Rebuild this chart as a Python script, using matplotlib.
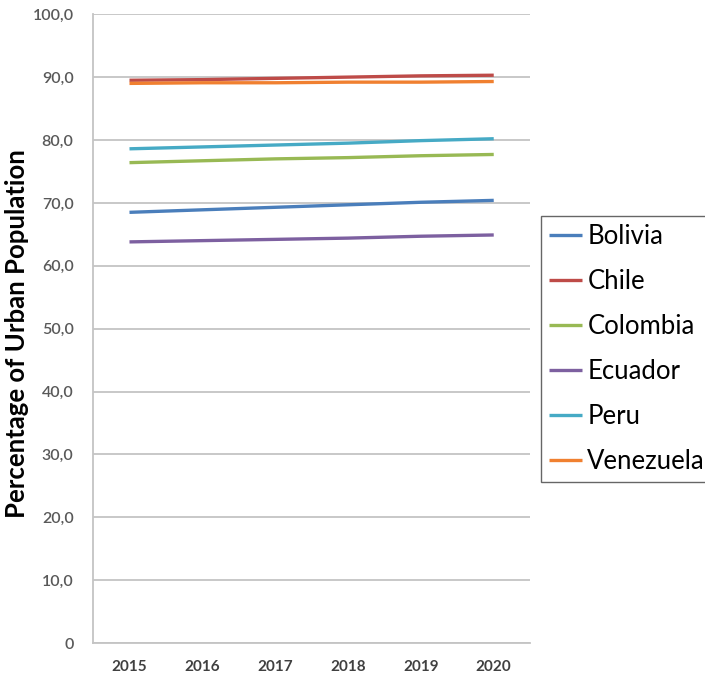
import matplotlib.pyplot as plt
from matplotlib.ticker import FuncFormatter

years = ["2015", "2016", "2017", "2018", "2019", "2020"]
bolivia = [68.5, 68.9, 69.3, 69.7, 70.1, 70.4]
chile = [89.5, 89.6, 89.8, 90.0, 90.2, 90.3]
colombia = [76.4, 76.7, 77.0, 77.2, 77.5, 77.7]
ecuador = [63.8, 64.0, 64.2, 64.4, 64.7, 64.9]
peru = [78.6, 78.9, 79.2, 79.5, 79.9, 80.2]
venezuela = [89.0, 89.1, 89.1, 89.2, 89.2, 89.3]

series = [
    ("Bolivia", bolivia, "#4A7EBB"),
    ("Chile", chile, "#BE4B48"),
    ("Colombia", colombia, "#98B954"),
    ("Ecuador", ecuador, "#7D60A0"),
    ("Peru", peru, "#46AAC5"),
    ("Venezuela", venezuela, "#F08030"),
]

plt.rcParams["font.family"] = ["Lato", "DejaVu Sans"]

fig = plt.figure(figsize=(7.05, 6.77), dpi=100)
ax = fig.add_axes([0.132, 0.050, 0.620, 0.929])

x = list(range(len(years)))
for name, vals, col in series:
    ax.plot(x, vals, color=col, lw=2.4, label=name, solid_capstyle="butt")

ax.set_xlim(-0.5, len(years) - 0.5)
ax.set_ylim(0, 100)
ax.set_yticks(range(0, 101, 10))
ax.yaxis.set_major_formatter(FuncFormatter(lambda v, p: "0" if v == 0 else f"{v:.1f}".replace(".", ",")))
ax.set_xticks(x)
ax.set_xticklabels(years)

ax.grid(axis="y", color="#c4c4c4", lw=1.3)
ax.set_axisbelow(True)
for s in ["top", "right"]:
    ax.spines[s].set_visible(False)
for s in ["left", "bottom"]:
    ax.spines[s].set_color("#c4c4c4")
    ax.spines[s].set_linewidth(1.3)
ax.tick_params(length=0)
ax.tick_params(axis="y", labelsize=11.5, labelcolor="#595959", pad=14)
ax.tick_params(axis="x", labelsize=11, labelcolor="#404040", pad=12)
for t in ax.get_xticklabels():
    t.set_fontweight("bold")
for t in ax.get_yticklabels():
    t.set_fontweight("semibold")

ax.set_ylabel("Percentage of Urban Population", fontsize=18.5, fontweight="bold", va="center")
ax.yaxis.set_label_coords(-0.175, 0.493)

leg = ax.legend(loc="upper left", bbox_to_anchor=(1.025, 0.679), fontsize=18.5,
                frameon=True, fancybox=False, handlelength=1.3, handletextpad=0.2,
                labelspacing=0.78, borderpad=0.3, borderaxespad=0)
leg.get_frame().set_edgecolor("#404040")
leg.get_frame().set_linewidth(1.0)

fig.savefig("out.png", dpi=100)
